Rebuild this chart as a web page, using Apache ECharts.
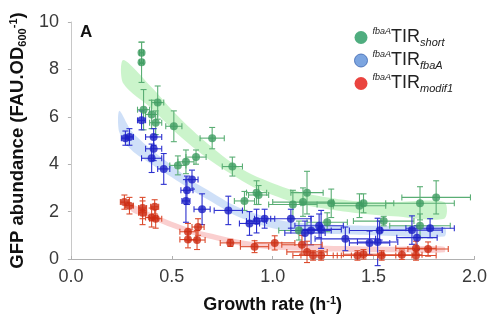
<!DOCTYPE html>
<html><head><meta charset="utf-8">
<script src="https://cdn.jsdelivr.net/npm/echarts@6/dist/echarts.min.js"></script>
<style>html,body{margin:0;padding:0;background:#fff}#c{width:490px;height:320px}</style>
</head><body><div id="c"></div>
<script>
// ---- data ----
var xTicks = [0.0, 0.5, 1.0, 1.5, 2.0];
var yTicks = [0, 2, 4, 6, 8, 10];

var shortX  = [0.35,0.35,0.36,0.43,0.40,0.42,0.51,0.70,0.53,0.57,0.62,0.80,0.86,0.92,0.93,1.10,1.15,1.17,1.29,1.43,1.45,1.73,1.81,1.27,1.13,1.73,1.55];
var shortY  = [8.7,8.3,6.3,6.6,6.1,5.75,5.6,5.1,3.95,4.1,4.3,3.9,2.45,2.8,2.7,2.3,2.4,2.8,2.35,2.25,2.35,2.35,2.6,1.55,1.2,1.4,1.6];
var shortEx = [0.01,0.01,0.03,0.03,0.03,0.03,0.04,0.06,0.04,0.04,0.05,0.05,0.05,0.05,0.05,0.12,0.15,0.08,0.15,0.13,0.15,0.17,0.17,0.1,0.1,0.15,0.15];
var shortEy = [0.45,0.85,0.85,0.7,0.6,0.5,0.65,0.45,0.4,0.5,0.3,0.4,0.4,0.5,0.4,0.6,0.6,0.9,0.6,0.5,0.4,0.7,0.7,0.4,0.4,0.5,0.2];

var fbaX  = [0.27,0.29,0.35,0.41,0.41,0.40,0.46,0.60,0.575,0.57,0.65,0.78,0.885,0.92,0.96,1.09,1.16,1.19,1.23,1.24,1.36,1.48,1.52,1.53,1.69,1.715,1.78];
var fbaY  = [5.1,5.15,5.85,5.15,4.65,4.25,3.8,3.35,2.9,2.45,2.1,2.05,1.5,1.6,1.7,1.7,1.1,1.2,1.4,1.25,0.85,0.68,0.72,1.2,1.22,0.9,1.3];
var fbaEx = [0.02,0.02,0.02,0.04,0.04,0.05,0.03,0.03,0.03,0.02,0.04,0.07,0.05,0.05,0.05,0.1,0.1,0.1,0.12,0.1,0.15,0.1,0.1,0.15,0.15,0.1,0.12];
var fbaEy = [0.3,0.35,0.4,0.35,0.5,0.6,0.65,0.4,0.6,0.9,0.65,0.6,0.5,0.5,0.4,0.4,0.5,0.6,0.5,0.8,0.5,0.5,1.0,0.4,0.6,0.5,0.4];

var modX  = [0.265,0.29,0.355,0.355,0.415,0.40,0.42,0.58,0.63,0.58,0.625,0.79,0.91,1.01,1.145,1.17,1.20,1.24,1.42,1.45,1.54,1.64,1.71,1.71,1.77];
var modY  = [2.4,2.25,2.15,1.95,2.2,1.75,1.7,1.15,1.35,0.82,0.8,0.68,0.52,0.68,0.6,0.3,0.15,0.15,0.15,0.2,0.15,0.18,0.45,0.15,0.42];
var modEx = [0.02,0.02,0.02,0.02,0.02,0.03,0.03,0.04,0.03,0.04,0.04,0.05,0.07,0.1,0.1,0.1,0.1,0.1,0.1,0.1,0.15,0.1,0.1,0.1,0.1];
var modEy = [0.3,0.35,0.45,0.5,0.3,0.4,0.4,0.35,0.35,0.35,0.4,0.15,0.25,0.3,0.4,0.45,0.2,0.2,0.2,0.2,0.2,0.2,0.3,0.2,0.3];

var shortBandX  = [0.26,0.4,0.5,0.6,0.7,0.8,0.9,1.0,1.1,1.2,1.4,1.6,1.85];
var shortBandHi = [8.4,7.25,6.3,5.45,4.7,4.05,3.55,3.2,2.9,2.7,2.45,2.4,2.4];
var shortBandLo = [7.4,6.35,5.5,4.75,4.1,3.55,3.05,2.7,2.4,2.2,1.95,1.8,1.7];

var fbaBandX  = [0.24,0.3,0.4,0.5,0.6,0.7,0.8,0.9,1.0,1.1,1.3,1.5,1.85];
var fbaBandHi = [6.25,5.4,4.6,3.95,3.3,2.8,2.3,1.95,1.7,1.55,1.45,1.4,1.35];
var fbaBandLo = [5.35,4.6,4.0,3.45,2.9,2.4,1.9,1.55,1.3,1.15,1.05,1.0,0.95];

var modBandX  = [0.3,0.4,0.5,0.6,0.7,0.8,0.9,1.0,1.2,1.4,1.6,1.85];
var modBandHi = [2.3,1.93,1.57,1.27,1.07,0.87,0.72,0.64,0.57,0.54,0.52,0.52];
var modBandLo = [2.0,1.67,1.33,1.03,0.83,0.63,0.48,0.4,0.33,0.3,0.28,0.28];

var names = ['short', 'fbaA', 'modif1'];

// ---- build ----
function pts(xs, ys){ return xs.map(function(x,i){ return [x, ys[i]]; }); }
function errs(xs, ys, ex, ey){ return xs.map(function(x,i){ return [x, ys[i], ex[i], ey[i]]; }); }

function errRender(color){
  return function(params, api){
    var x=api.value(0), y=api.value(1), ex=api.value(2), ey=api.value(3);
    var l=api.coord([x-ex,y]), r=api.coord([x+ex,y]), t=api.coord([x,y+ey]), b=api.coord([x,y-ey]);
    var c=3, st={stroke:color, lineWidth:1.1};
    return {type:'group', children:[
      {type:'line', shape:{x1:l[0],y1:l[1],x2:r[0],y2:r[1]}, style:st},
      {type:'line', shape:{x1:l[0],y1:l[1]-c,x2:l[0],y2:l[1]+c}, style:st},
      {type:'line', shape:{x1:r[0],y1:r[1]-c,x2:r[0],y2:r[1]+c}, style:st},
      {type:'line', shape:{x1:t[0],y1:t[1],x2:b[0],y2:b[1]}, style:st},
      {type:'line', shape:{x1:t[0]-c,y1:t[1],x2:t[0]+c,y2:t[1]}, style:st},
      {type:'line', shape:{x1:b[0]-c,y1:b[1],x2:b[0]+c,y2:b[1]}, style:st}
    ]};
  };
}
function bandRender(xs, lo, hi, color){
  return function(params, api){
    if (params.dataIndex !== 0) return null;
    var p = [];
    for (var i=0;i<xs.length;i++) p.push(api.coord([xs[i], hi[i]]));
    for (var j=xs.length-1;j>=0;j--) p.push(api.coord([xs[j], lo[j]]));
    return {type:'polygon', shape:{points:p, smooth:0.3}, style:{fill:color, stroke:null}};
  };
}

var cols = {
  short: {pt:'#3f9c62', err:'#5aae74', band:'rgba(130,228,130,0.42)', leg:'#23995f'},
  fbaA:  {pt:'#1b1fc4', err:'#2c30cf', band:'rgba(140,182,238,0.42)', leg:'#5b8ed8'},
  modif1:{pt:'#cc2a12', err:'#dc4c2e', band:'rgba(242,140,140,0.42)', leg:'#e5150f'}
};

var series = [
  {type:'custom', silent:true, z:1, renderItem:bandRender(shortBandX, shortBandLo, shortBandHi, cols.short.band), data:pts(shortBandX, shortBandHi), encode:{x:0,y:1}},
  {type:'custom', silent:true, z:1, renderItem:bandRender(fbaBandX, fbaBandLo, fbaBandHi, cols.fbaA.band), data:pts(fbaBandX, fbaBandHi), encode:{x:0,y:1}},
  {type:'custom', silent:true, z:1, renderItem:bandRender(modBandX, modBandLo, modBandHi, cols.modif1.band), data:pts(modBandX, modBandHi), encode:{x:0,y:1}},
  {type:'custom', z:2, renderItem:errRender(cols.short.err), data:errs(shortX, shortY, shortEx, shortEy), encode:{x:0,y:1}},
  {type:'custom', z:2, renderItem:errRender(cols.fbaA.err), data:errs(fbaX, fbaY, fbaEx, fbaEy), encode:{x:0,y:1}},
  {type:'custom', z:2, renderItem:errRender(cols.modif1.err), data:errs(modX, modY, modEx, modEy), encode:{x:0,y:1}},
  {name:'short', type:'scatter', z:3, symbolSize:8, itemStyle:{color:cols.short.pt}, data:pts(shortX, shortY)},
  {name:'fbaA', type:'scatter', z:3, symbolSize:8, itemStyle:{color:cols.fbaA.pt}, data:pts(fbaX, fbaY)},
  {name:'modif1', type:'scatter', z:3, symbolSize:8, itemStyle:{color:cols.modif1.pt}, data:pts(modX, modY)}
];

var FF = 'Liberation Sans, Arial, sans-serif';
var chart = echarts.init(document.getElementById('c'), null, {renderer:'canvas'});
chart.setOption({
  animation:false,
  backgroundColor:'#fff',
  grid:{left:67, right:8, top:22, bottom:61, containLabel:false},
  xAxis:{type:'value', min:xTicks[0], max:xTicks[xTicks.length-1], interval:0.5,
    axisLine:{lineStyle:{color:'#b0b0b0', width:1}},
    axisTick:{show:true, inside:true, length:3, lineStyle:{color:'#b0b0b0'}},
    splitLine:{show:false},
    axisLabel:{color:'#3a3a3a', fontSize:18, fontFamily:FF, margin:9, formatter:function(v){return v.toFixed(1);}},
    name:'{b|Growth rate (h}{sp|-1}{b|)}', nameLocation:'middle', nameGap:36,
    nameTextStyle:{rich:{
      b:{fontSize:18, fontWeight:'bold', color:'#111', fontFamily:FF, lineHeight:20},
      sp:{fontSize:11, fontWeight:'bold', color:'#111', fontFamily:FF, verticalAlign:'top', lineHeight:20, padding:[0,0,8,0]}
    }}
  },
  yAxis:{type:'value', min:yTicks[0], max:yTicks[yTicks.length-1], interval:2,
    axisLine:{show:true, lineStyle:{color:'#c8c8c8', width:1}},
    axisTick:{show:true, length:3, lineStyle:{color:'#b0b0b0'}},
    splitLine:{show:false},
    axisLabel:{color:'#3a3a3a', fontSize:18, fontFamily:FF, margin:12},
    name:'{b|GFP abundance (FAU.OD}{sb|600}{sp|-1}{b|)}', nameLocation:'middle', nameGap:37, nameRotate:90,
    nameTextStyle:{rich:{
      b:{fontSize:18.5, fontWeight:'bold', color:'#111', fontFamily:FF, lineHeight:20},
      sb:{fontSize:11, fontWeight:'bold', color:'#111', fontFamily:FF, verticalAlign:'bottom', lineHeight:20, padding:[8,0,0,0]},
      sp:{fontSize:11, fontWeight:'bold', color:'#111', fontFamily:FF, verticalAlign:'top', lineHeight:20, padding:[0,0,8,0]}
    }}
  },
  legend:{orient:'vertical', left:349, top:22, itemGap:2, itemWidth:13, itemHeight:13, icon:'circle',
    data:[
      {name:names[0], itemStyle:{color:cols.short.leg}},
      {name:names[1], itemStyle:{color:cols.fbaA.leg, borderColor:'#3a64b0', borderWidth:1}},
      {name:names[2], itemStyle:{color:cols.modif1.leg}}
    ],
    formatter:function(n){ return '{sp|fbaA}{m|TIR}{sb|' + n + '}'; },
    textStyle:{rich:{
      sp:{fontSize:9, fontStyle:'italic', color:'#222', fontFamily:FF, verticalAlign:'top', lineHeight:21, padding:[0,0,6,0]},
      m:{fontSize:18, color:'#222', fontFamily:FF, lineHeight:21},
      sb:{fontSize:11, fontStyle:'italic', color:'#222', fontFamily:FF, verticalAlign:'bottom', lineHeight:21, padding:[6,0,0,0]}
    }}
  },
  graphic:[{type:'text', left:80, top:24, style:{text:'A', font:'bold 17px '+FF, fill:'#111'}}],
  series:series
});
</script></body></html>
